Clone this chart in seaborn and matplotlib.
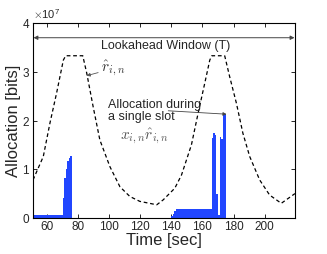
import numpy as np
import pandas as pd
import matplotlib
matplotlib.use("Agg")
import matplotlib.pyplot as plt
import seaborn as sns
from matplotlib.ticker import ScalarFormatter

sns.set_style("white")
plt.rcParams['font.family'] = ['Liberation Sans', 'DejaVu Sans']
plt.rcParams['mathtext.fontset'] = 'cm'

SCALE = 1e7

# predicted rate r_hat (units of 1e7 bits)
rate_time = [51, 57.6, 61.9, 66.2, 70.5, 72, 83, 85.5, 89.7, 94, 100.5, 106.9,
             113.3, 119.7, 130.6, 134.7, 142.2, 146.5, 149.7, 152.9, 157.2,
             161.5, 164.7, 166, 174.3, 177.5, 181.8, 186, 190.4, 196.8, 203.2,
             210.7, 218.2, 219.5]
rate_val = [0.78, 1.26, 1.95, 2.57, 3.24, 3.33, 3.33, 2.98, 2.28, 1.60, 1.05, 0.64,
            0.44, 0.34, 0.27, 0.37, 0.61, 0.88, 1.19, 1.50, 2.15,
            2.77, 3.24, 3.33, 3.33, 2.90, 2.36, 1.74, 1.26, 0.78, 0.47,
            0.30, 0.47, 0.50]

# allocation per slot (slot edges in sec, heights in 1e7 bits)
slot_edges = [51, 70, 71, 72, 73, 74, 75, 76,
              139.5, 141, 142, 143, 166, 167, 168, 169, 170, 171, 172, 173.2, 175.4]
slot_alloc = [0.06, 0.40, 0.82, 1.00, 1.16, 1.24, 1.28,
              0.0,
              0.03, 0.08, 0.14, 0.19, 1.64, 1.75, 1.70, 0.50, 0.05, 1.67, 1.62, 2.13]

x_ticks = [60, 80, 100, 120, 140, 160, 180, 200]
y_ticks = [0, 1, 2, 3, 4]

edges = np.array(slot_edges)
centers = (edges[:-1] + edges[1:]) / 2
alloc = pd.DataFrame({'t': centers, 'bits': np.array(slot_alloc) * SCALE})
rate = pd.DataFrame({'t': rate_time, 'bits': np.array(rate_val) * SCALE})

fig = plt.figure(figsize=(3.27, 2.54), dpi=100)
ax = fig.add_axes([0.101, 0.142, 0.801, 0.767])

sns.histplot(data=alloc, x='t', weights='bits', bins=slot_edges, element='bars',
             color='#2146ff', alpha=1, linewidth=0, ax=ax)
sns.lineplot(data=rate, x='t', y='bits', color='black', linewidth=0.9, ax=ax)
ax.lines[-1].set_linestyle((0, (3, 2.2)))

ax.set_xlim(51, 219.5)
ax.set_ylim(0, 4 * SCALE)
ax.set_xticks(x_ticks)
ax.set_yticks([v * SCALE for v in y_ticks])
fmt = ScalarFormatter(useMathText=True)
fmt.set_powerlimits((0, 0))
ax.yaxis.set_major_formatter(fmt)
ax.yaxis.get_offset_text().set_fontsize(8)
ax.tick_params(direction='in', length=3, width=0.7, labelsize=8.5, pad=2,
               top=True, right=True, bottom=True, left=True)
for s in ax.spines.values():
    s.set_linewidth(0.8)
    s.set_color('black')
ax.set_xlabel('Time [sec]', fontsize=12, labelpad=0)
ax.set_ylabel('Allocation [bits]', fontsize=12, labelpad=1)

# annotations
ax.annotate('', xy=(51.3, 3.70 * SCALE), xytext=(219.2, 3.70 * SCALE),
            arrowprops=dict(arrowstyle='<|-|>', color='#444444', lw=0.7,
                            mutation_scale=6, shrinkA=0, shrinkB=0))
ax.text(136, 3.53 * SCALE, 'Lookahead Window (T)', ha='center', va='center', fontsize=9)
ax.annotate(r'$\hat{r}_{i,n}$', xy=(85.5, 2.92 * SCALE), xytext=(95, 3.07 * SCALE),
            fontsize=11, color='#333333', va='center',
            arrowprops=dict(arrowstyle='-|>', color='#555555', lw=0.6,
                            mutation_scale=5, shrinkA=0, shrinkB=0))
ax.text(99, 2.2 * SCALE, 'Allocation during\na single slot', ha='left', va='center',
        fontsize=9, linespacing=1.05)
ax.annotate('', xy=(175.5, 2.13 * SCALE), xytext=(138, 2.2 * SCALE),
            arrowprops=dict(arrowstyle='-|>', color='#444444', lw=0.6,
                            mutation_scale=5, shrinkA=0, shrinkB=0))
ax.text(123, 1.68 * SCALE, r'$x_{i,n}\hat{r}_{i,n}$', ha='center', va='center',
        fontsize=11, color='#555555')

fig.savefig('out.png', dpi=100)
